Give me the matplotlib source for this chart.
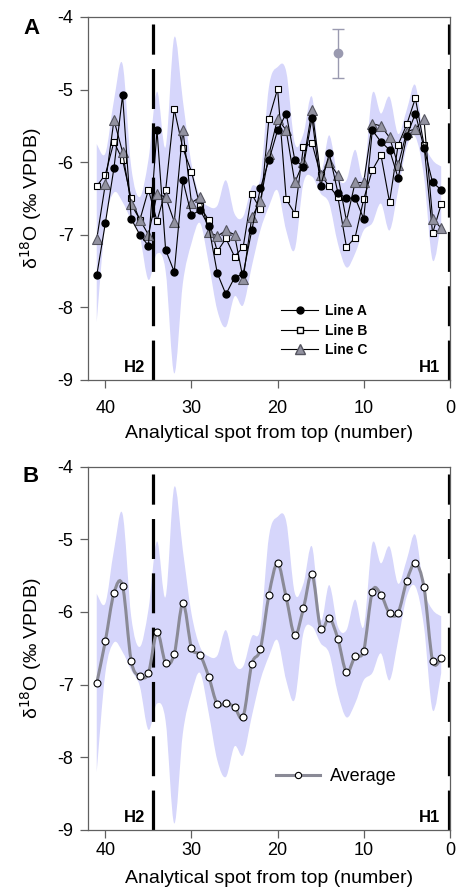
import numpy as np
import matplotlib
matplotlib.use("Agg")
import matplotlib.pyplot as plt
from matplotlib.path import Path
from matplotlib.patches import PathPatch
from matplotlib.lines import Line2D

plt.rcParams['font.family'] = ['Liberation Sans', 'DejaVu Sans']

# analytical spots (41 -> 1)
spots = list(range(41, 0, -1))

line_a = [-7.56, -6.84, -6.08, -5.08, -6.78, -7.00, -7.15, -5.56, -7.21, -7.51,
          -6.25, -6.73, -6.66, -6.88, -7.53, -7.82, -7.59, -7.54, -6.94, -6.36,
          -5.97, -5.56, -5.33, -5.97, -6.06, -5.39, -6.33, -5.88, -6.42, -6.50,
          -6.49, -6.78, -5.56, -5.72, -5.83, -6.22, -5.64, -5.33, -5.80, -6.28,
          -6.38]
line_b = [-6.33, -6.17, -5.72, -5.97, -6.50, -6.80, -6.38, -6.81, -6.39, -5.27,
          -5.81, -6.13, -6.61, -6.80, -7.23, -7.05, -7.30, -7.17, -6.44, -6.65,
          -5.40, -4.99, -6.51, -6.71, -5.79, -5.74, -6.18, -6.33, -6.48, -7.17,
          -7.04, -6.51, -6.11, -5.90, -6.55, -5.76, -5.48, -5.12, -5.76, -6.98,
          -6.58]
line_c = [-7.06, -6.30, -5.42, -5.86, -6.58, -6.79, -7.00, -6.44, -6.48, -6.82,
          -5.55, -6.56, -6.48, -6.96, -7.02, -6.94, -7.00, -7.61, -6.76, -6.54,
          -5.89, -5.40, -5.56, -6.28, -6.00, -5.28, -6.18, -6.00, -6.18, -6.81,
          -6.28, -6.28, -5.47, -5.50, -5.66, -6.04, -5.58, -5.54, -5.41, -6.78,
          -6.91]
average = [-6.98, -6.40, -5.74, -5.64, -6.67, -6.88, -6.84, -6.28, -6.70, -6.58,
           -5.88, -6.49, -6.59, -6.89, -7.27, -7.25, -7.31, -7.44, -6.72, -6.51,
           -5.76, -5.33, -5.80, -6.32, -5.95, -5.48, -6.23, -6.08, -6.37, -6.83,
           -6.61, -6.53, -5.72, -5.76, -6.02, -6.01, -5.57, -5.33, -5.66, -6.67,
           -6.63]

# shaded envelope
band_upper = [-5.75, -5.88, -5.15, -4.65, -6.06, -6.48, -5.97, -5.03, -5.79, -4.28,
              -5.15, -6.02, -6.48, -6.61, -6.60, -6.25, -6.71, -6.75, -6.34, -6.22,
              -4.96, -4.69, -4.75, -5.74, -5.61, -5.10, -6.11, -5.63, -6.20, -6.25,
              -5.83, -6.20, -5.06, -5.33, -5.10, -5.61, -5.28, -4.94, -5.70, -5.97,
              -6.06]
band_lower = [-8.20, -6.84, -6.42, -6.55, -6.80, -7.02, -7.62, -7.26, -7.50, -8.91,
              -7.67, -7.12, -6.84, -7.39, -8.04, -8.27, -7.85, -7.97, -7.44, -6.94,
              -6.61, -6.39, -6.94, -7.20, -6.29, -6.20, -6.43, -6.57, -7.12, -7.45,
              -7.26, -6.94, -6.84, -6.57, -6.94, -6.39, -5.79, -5.65, -6.20, -7.35,
              -6.84]

# analytical precision example
err_x, err_y, err_sd = 13, -4.50, 0.34
h_lines = [34.5, 0.1]
h_labels = ['H2', 'H1']
h_label_x = [35.35, 1.15]


def smooth_verts(x, y):
    pts = np.column_stack([x, y]).astype(float)
    n = len(pts)
    verts, codes = [pts[0]], [Path.MOVETO]
    for i in range(n - 1):
        p0, p1 = pts[max(i - 1, 0)], pts[i]
        p2, p3 = pts[i + 1], pts[min(i + 2, n - 1)]
        verts += [p1 + (p2 - p0) / 6, p2 - (p3 - p1) / 6, p2]
        codes += [Path.CURVE4] * 3
    return verts, codes


def draw_band(ax):
    v1, c1 = smooth_verts(spots, band_upper)
    v2, c2 = smooth_verts(spots[::-1], band_lower[::-1])
    c2[0] = Path.LINETO
    verts = v1 + v2 + [v1[0]]
    codes = c1 + c2 + [Path.CLOSEPOLY]
    ax.add_patch(PathPatch(Path(verts, codes), facecolor='#d6d6fb',
                           edgecolor='none', zorder=1))


def style_axes(ax, xpad, labelpad):
    ax.set_xlim(42, 0)
    ax.set_ylim(-9, -4)
    ax.set_xticks([40, 30, 20, 10, 0])
    ax.set_yticks([-4, -5, -6, -7, -8, -9])
    ax.set_yticklabels(['-4', '-5', '-6', '-7', '-8', '-9'])
    for s in ax.spines.values():
        s.set_color('#606060')
        s.set_linewidth(0.9)
    ax.tick_params(direction='out', length=5.5, width=0.9, color='#606060',
                   labelsize=13)
    ax.tick_params(axis='y', pad=5)
    ax.tick_params(axis='x', pad=xpad)
    ax.set_xlabel('Analytical spot from top (number)', fontsize=14,
                  labelpad=labelpad)
    ax.set_ylabel(r'δ$^{18}$O (‰ VPDB)', fontsize=14, labelpad=10)
    for xv, lab, lx in zip(h_lines, h_labels, h_label_x):
        ax.plot([xv, xv], [-9, -4.1], color='black', lw=2.3,
                linestyle=(0, (12.5, 4.5)), zorder=2)
        ax.text(lx, -8.89, lab, fontsize=12, fontweight='bold', ha='right',
                va='baseline')


fig = plt.figure(figsize=(4.59, 8.94), dpi=100)
axA = fig.add_axes([0.192, 0.575, 0.788, 0.406])
axB = fig.add_axes([0.192, 0.0716, 0.788, 0.4064])

# Panel A
draw_band(axA)
style_axes(axA, xpad=9, labelpad=6)
axA.plot(spots, line_b, '-s', color='black', lw=0.8, ms=5, mfc='white',
         mec='black', mew=0.8, zorder=4)
axA.plot(spots, line_c, '-^', color='black', lw=0.8, ms=6.5, mfc='#9292a0',
         mec='#555560', mew=0.8, zorder=4)
axA.plot(spots, line_a, '-o', color='black', lw=0.8, ms=5, mfc='black',
         mec='black', zorder=5)
axA.errorbar([err_x], [err_y], yerr=[err_sd], fmt='o', color='#9a9ab0',
             ms=6, capsize=4, elinewidth=1, capthick=1, zorder=5)
handles = [
    Line2D([], [], color='black', lw=0.8, marker='o', ms=5, mfc='black'),
    Line2D([], [], color='black', lw=0.8, marker='s', ms=5, mfc='white', mec='black'),
    Line2D([], [], color='black', lw=0.8, marker='^', ms=6.5, mfc='#9292a0', mec='#555560'),
]
axA.legend(handles, ['Line A', 'Line B', 'Line C'], loc='lower left',
           bbox_to_anchor=(0.5, 0.028), frameon=False, handlelength=2.6,
           handletextpad=0.5, labelspacing=0.4, prop={'weight': 'bold', 'size': 10})
fig.text(31 / 459, 1 - 28 / 894, 'A', fontsize=16, fontweight='bold',
         va='center', ha='center')

# Panel B
draw_band(axB)
style_axes(axB, xpad=3, labelpad=8)
v, c = smooth_verts(spots, average)
axB.add_patch(PathPatch(Path(v, c), facecolor='none', edgecolor='#8a8a96',
                        lw=2.2, zorder=4))
axB.plot(spots, average, 'o', ms=5, mfc='white', mec='black', mew=0.8, zorder=5)
hB = Line2D([], [], color='#8a8a96', lw=2.2, marker='o', ms=4.5, mfc='white',
            mec='black', mew=0.8)
axB.legend([hB], ['Average'], loc='lower left', bbox_to_anchor=(0.475, 0.078),
           frameon=False, handlelength=2.4, handletextpad=0.6,
           prop={'size': 13})
fig.text(31 / 459, 1 - 477 / 894, 'B', fontsize=16, fontweight='bold',
         va='center', ha='center')

fig.savefig('out.png', dpi=100)
